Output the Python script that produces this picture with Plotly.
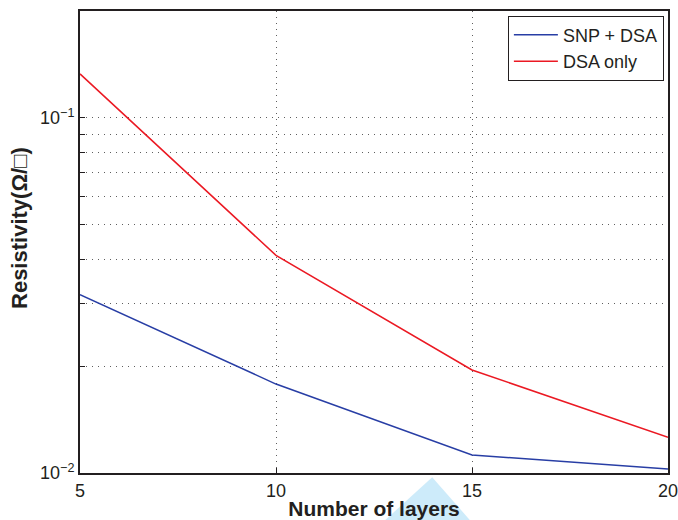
import plotly.graph_objects as go

layers = [5, 10, 15, 20]
snp_dsa = [0.0318, 0.0178, 0.01124, 0.01026]
dsa_only = [0.133, 0.041, 0.0195, 0.0126]

y_tickvals = [0.01, 0.02, 0.03, 0.04, 0.05, 0.06, 0.07, 0.08, 0.09, 0.1, 0.2]
y_ticktext = ["10<sup>−2</sup>", "", "", "", "", "", "", "", "", "10<sup>−1</sup>", ""]
x_tickvals = [5, 10, 15, 20]

FONT = "Liberation Sans"
INK = "#231f20"

fig = go.Figure()
fig.add_trace(go.Scatter(x=layers, y=snp_dsa, mode="lines", name="SNP + DSA",
                         line=dict(color="rgb(40,62,165)", width=1.5)))
fig.add_trace(go.Scatter(x=layers, y=dsa_only, mode="lines", name="DSA only",
                         line=dict(color="rgb(235,25,35)", width=1.5)))

axis_common = dict(showline=True, linecolor=INK, linewidth=2, mirror=True,
                   ticks="inside", ticklen=5, tickcolor=INK, automargin=False,
                   ticklabeloverflow="allow",
                   showgrid=True, gridcolor="rgba(40,40,40,0.75)", griddash="1px,5px", gridwidth=1,
                   zeroline=False, tickfont=dict(family=FONT, size=18, color=INK))

fig.update_xaxes(range=[5, 20], tickvals=x_tickvals,
                 title=dict(text="<b>Number of layers</b>", standoff=2,
                            font=dict(family=FONT, size=21, color=INK)),
                 **axis_common)
fig.update_yaxes(type="log", range=[-2, -0.699], tickvals=y_tickvals, ticktext=y_ticktext,
                 **axis_common)

# y-axis title placed as an annotation to match the reference position
fig.add_annotation(text="<b>Resistivity(Ω/□)</b>", textangle=-90, showarrow=False,
                   xref="paper", yref="paper", x=-0.104, y=0.53,
                   xanchor="center", yanchor="middle",
                   font=dict(family=FONT, size=22, color=INK))

# light watermark triangle visible under the x-axis title in the reference
fig.add_shape(type="path", xref="paper", yref="paper", layer="below",
              path="M 0.519 -0.102 L 0.599 -0.009 L 0.663 -0.102 Z",
              fillcolor="rgb(205,235,250)", line=dict(width=0))

fig.update_layout(width=678, height=520, margin=dict(l=80, r=10, t=11, b=47),
                  plot_bgcolor="white", paper_bgcolor="white",
                  showlegend=True,
                  legend=dict(x=0.993, y=0.99, xanchor="right", yanchor="top",
                              bgcolor="white", bordercolor=INK, borderwidth=1,
                              font=dict(family=FONT, size=18, color=INK),
                              tracegroupgap=0, itemwidth=44))

fig.write_html("out.html", config={"displayModeBar": False},
               post_script="document.body.style.margin='0';document.body.style.overflow='hidden';")
